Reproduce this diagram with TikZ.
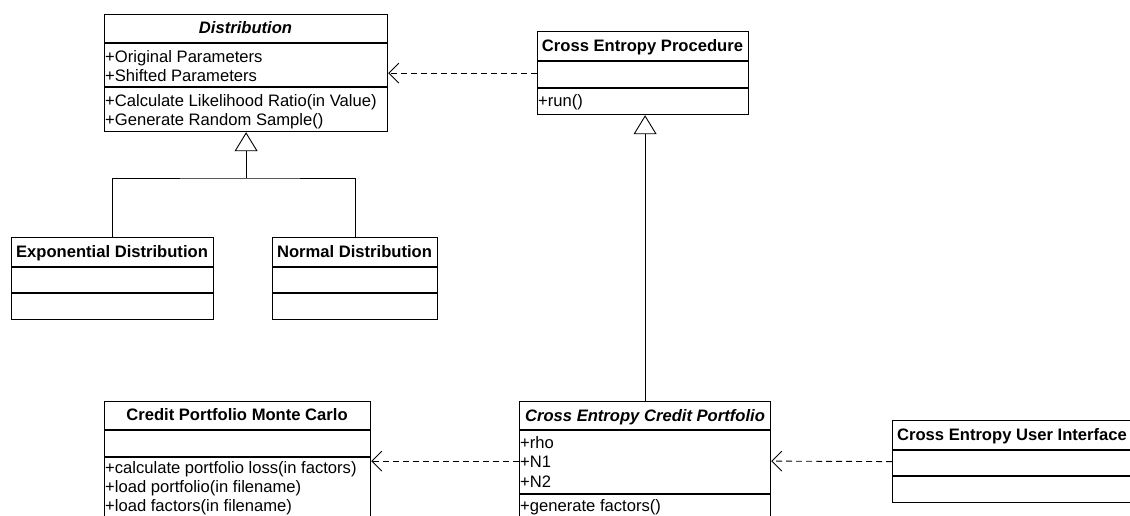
\documentclass[tikz,border=0pt]{standalone}
\usepackage{fontspec}
\setmainfont{Liberation Sans}
\usetikzlibrary{arrows.meta}
\newcommand{\umlsize}{\fontsize{16.6}{19}\selectfont}
\tikzset{
 cls/.style={draw, line width=1.2pt, inner sep=0pt, anchor=north west},
 sep/.style={line width=1.2pt},
 hdr/.style={anchor=base, font=\umlsize\bfseries, inner sep=0pt},
 hdri/.style={anchor=base, font=\umlsize\bfseries\itshape, inner sep=0pt},
 mem/.style={anchor=base west, font=\umlsize, inner sep=0pt},
 conn/.style={line width=0.9pt},
 dep/.style={line width=0.9pt, dash pattern=on 6pt off 4pt, -{Straight Barb[length=10pt,width=20pt]}},
 gen/.style={line width=0.9pt, -{Triangle[open,length=19pt,width=23pt,fill=white]}},
}
\begin{document}
\begin{tikzpicture}[x=1pt,y=-1pt]
\useasboundingbox (0,0) rectangle (1130,515);
\clip (0,0) rectangle (1130,515);
% Distribution
\node[cls, minimum width=283pt, minimum height=117pt] (dist) at (104,14) {};
\draw[sep] (dist.west |- 0,43) -- (dist.east |- 0,43);
\draw[sep] (dist.west |- 0,87) -- (dist.east |- 0,87);
\node[hdri] (distt) at (245.5,33) {Distribution};
\node[mem] (d1) at (105,62) {+Original Parameters};
\node[mem] (d2) at (105,81) {+Shifted Parameters};
\node[mem] (d3) at (105,106.5) {+Calculate Likelihood Ratio(in Value)};
\node[mem] (d4) at (105,125.5) {+Generate Random Sample()};
% Cross Entropy Procedure
\node[cls, minimum width=211pt, minimum height=83pt] (proc) at (537,31) {};
\draw[sep] (proc.west |- 0,61) -- (proc.east |- 0,61);
\draw[sep] (proc.west |- 0,88) -- (proc.east |- 0,88);
\node[hdr] (proct) at (642.5,51) {Cross Entropy Procedure};
\node[mem] (p1) at (538,106) {+run()};
% Exponential Distribution
\node[cls, minimum width=202pt, minimum height=82pt] (expd) at (11,237) {};
\draw[sep] (expd.west |- 0,267) -- (expd.east |- 0,267);
\draw[sep] (expd.west |- 0,293) -- (expd.east |- 0,293);
\node[hdr] (expt) at (112,257) {Exponential Distribution};
% Normal Distribution
\node[cls, minimum width=165pt, minimum height=82pt] (normd) at (272,237) {};
\draw[sep] (normd.west |- 0,267) -- (normd.east |- 0,267);
\draw[sep] (normd.west |- 0,293) -- (normd.east |- 0,293);
\node[hdr] (normt) at (354.5,257) {Normal Distribution};
% Credit Portfolio Monte Carlo
\node[cls, minimum width=266pt, minimum height=119pt] (cpmc) at (104,401) {};
\draw[sep] (cpmc.west |- 0,430) -- (cpmc.east |- 0,430);
\draw[sep] (cpmc.west |- 0,457) -- (cpmc.east |- 0,457);
\node[hdr] (cpmct) at (237,420) {Credit Portfolio Monte Carlo};
\node[mem] (c1) at (105,473) {+calculate portfolio loss(in factors)};
\node[mem] (c2) at (105,492) {+load portfolio(in filename)};
\node[mem] (c3) at (105,511) {+load factors(in filename)};
% Cross Entropy Credit Portfolio
\node[cls, minimum width=251pt, minimum height=119pt] (cecp) at (519,401) {};
\draw[sep] (cecp.west |- 0,430) -- (cecp.east |- 0,430);
\draw[sep] (cecp.west |- 0,494) -- (cecp.east |- 0,494);
\node[hdri] (cecpt) at (645,421) {Cross Entropy Credit Portfolio};
\node[mem] (e1) at (520,448) {+rho};
\node[mem] (e2) at (520,467.5) {+N1};
\node[mem] (e3) at (520,487) {+N2};
\node[mem] (e4) at (520,511) {+generate factors()};
% Cross Entropy User Interface
\node[cls, minimum width=240pt, minimum height=82pt] (ui) at (892,420) {};
\draw[sep] (ui.west |- 0,450) -- (ui.east |- 0,450);
\draw[sep] (ui.west |- 0,476) -- (ui.east |- 0,476);
\node[hdr] (uit) at (1012,440) {Cross Entropy User Interface};
% connectors
\coordinate (junc) at (dist.south |- 0,178);
\draw[conn] (expd.north) |- (junc) -| (normd.north);
\draw[gen] (junc) -- (dist.south);
\draw[gen] (cecp.north) -- (cecp.north |- proc.south);
\draw[dep] (proc.west) -- (dist.east);
\draw[dep] (cecp.west) -- (cpmc.east);
\draw[dep] (ui.west) -- (cecp.east);
\end{tikzpicture}
\end{document}
